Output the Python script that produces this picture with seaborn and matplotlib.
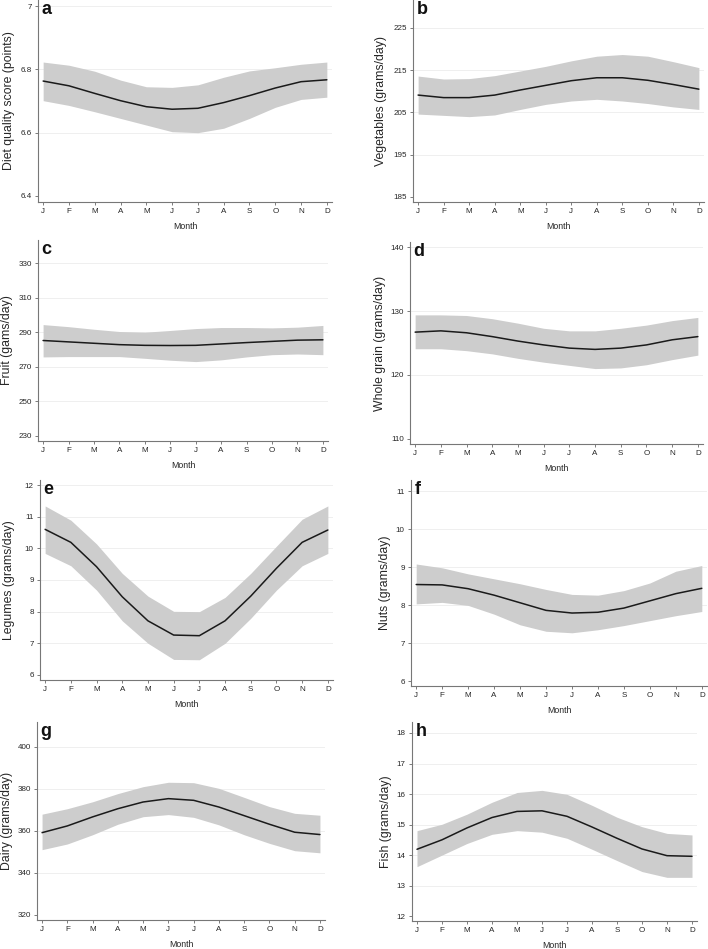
import matplotlib
matplotlib.use("Agg")
import matplotlib.pyplot as plt
import seaborn as sns
import pandas as pd

# -----------------------------
# Data
# -----------------------------
months = ["J", "F", "M", "A", "M", "J", "J", "A", "S", "O", "N", "D"]

diet_mean = [6.763, 6.748, 6.724, 6.701, 6.682, 6.674, 6.677, 6.695, 6.717, 6.741, 6.761, 6.767]
diet_hi = [6.823, 6.813, 6.794, 6.766, 6.745, 6.743, 6.751, 6.775, 6.795, 6.805, 6.816, 6.823]
diet_lo = [6.701, 6.686, 6.666, 6.645, 6.624, 6.603, 6.600, 6.614, 6.645, 6.680, 6.705, 6.712]

veg_mean = [209.1, 208.5, 208.5, 209.1, 210.3, 211.4, 212.5, 213.2, 213.2, 212.6, 211.6, 210.5]
veg_hi = [213.6, 212.9, 213.0, 213.7, 214.8, 215.9, 217.2, 218.3, 218.7, 218.3, 217.0, 215.6]
veg_lo = [204.6, 204.3, 204.0, 204.4, 205.7, 206.9, 207.7, 208.1, 207.7, 207.1, 206.3, 205.7]

fruit_mean = [285.2, 284.4, 283.6, 282.8, 282.4, 282.3, 282.4, 283.2, 284.0, 284.7, 285.4, 285.6]
fruit_hi = [294.4, 293.2, 291.7, 290.4, 290.0, 291.0, 292.1, 292.7, 292.7, 292.5, 292.9, 293.9]
fruit_lo = [275.7, 275.9, 275.9, 275.9, 274.9, 273.8, 273.0, 274.0, 275.7, 277.0, 277.4, 277.0]

grain_mean = [126.7, 126.9, 126.6, 126.0, 125.3, 124.7, 124.2, 124.0, 124.2, 124.7, 125.5, 126.0]
grain_hi = [129.4, 129.4, 129.3, 128.8, 128.1, 127.3, 126.9, 126.9, 127.3, 127.8, 128.5, 129.0]
grain_lo = [124.1, 124.1, 123.8, 123.3, 122.6, 122.0, 121.5, 121.0, 121.1, 121.6, 122.4, 123.1]

legume_mean = [10.60, 10.19, 9.42, 8.47, 7.71, 7.26, 7.24, 7.71, 8.49, 9.37, 10.19, 10.58]
legume_hi = [11.34, 10.89, 10.14, 9.21, 8.49, 8.01, 8.00, 8.45, 9.21, 10.07, 10.92, 11.34]
legume_lo = [9.84, 9.45, 8.68, 7.71, 7.00, 6.49, 6.48, 7.00, 7.79, 8.68, 9.45, 9.84]

nuts_mean = [8.54, 8.53, 8.43, 8.26, 8.06, 7.86, 7.79, 7.81, 7.92, 8.11, 8.30, 8.44]
nuts_hi = [9.08, 8.98, 8.82, 8.69, 8.56, 8.41, 8.28, 8.26, 8.38, 8.58, 8.89, 9.04]
nuts_lo = [8.03, 8.07, 7.99, 7.76, 7.48, 7.31, 7.27, 7.35, 7.46, 7.59, 7.72, 7.83]

dairy_mean = [359.2, 362.4, 366.7, 370.6, 373.8, 375.4, 374.6, 371.4, 367.3, 363.2, 359.4, 358.3]
dairy_hi = [368.0, 370.6, 373.9, 377.8, 381.1, 383.2, 383.0, 380.3, 376.0, 371.6, 368.4, 367.5]
dairy_lo = [351.1, 353.8, 358.2, 363.2, 366.8, 367.8, 366.5, 362.9, 358.2, 354.1, 350.6, 349.6]

fish_mean = [14.19, 14.50, 14.89, 15.23, 15.43, 15.45, 15.27, 14.92, 14.55, 14.20, 13.98, 13.96]
fish_hi = [14.80, 15.01, 15.34, 15.73, 16.05, 16.12, 15.99, 15.63, 15.24, 14.93, 14.71, 14.66]
fish_lo = [13.62, 14.00, 14.38, 14.68, 14.80, 14.75, 14.55, 14.19, 13.82, 13.46, 13.27, 13.27]

panel_letters = ["a", "b", "c", "d", "e", "f", "g", "h"]
ylabels = ["Diet quality score (points)", "Vegetables (grams/day)", "Fruit (gams/day)",
           "Whole grain (grams/day)", "Legumes (grams/day)", "Nuts (grams/day)",
           "Dairy (grams/day)", "Fish (grams/day)"]
yticks = [[6.4, 6.6, 6.8, 7], [185, 195, 205, 215, 225], [230, 250, 270, 290, 310, 330],
          [110, 120, 130, 140], [6, 7, 8, 9, 10, 11, 12], [6, 7, 8, 9, 10, 11],
          [320, 340, 360, 380, 400], [12, 13, 14, 15, 16, 17, 18]]
ytick_labels = [["6.4", "6.6", "6.8", "7"]] + [[str(t) for t in tk] for tk in yticks[1:]]
ylims = [(6.381, 7.019), (183.8, 231.6), (227.1, 343.3), (109.2, 140.8),
         (5.84, 12.16), (5.87, 11.29), (317.6, 411.9), (11.84, 18.36)]

means = [diet_mean, veg_mean, fruit_mean, grain_mean, legume_mean, nuts_mean, dairy_mean, fish_mean]
highs = [diet_hi, veg_hi, fruit_hi, grain_hi, legume_hi, nuts_hi, dairy_hi, fish_hi]
lows = [diet_lo, veg_lo, fruit_lo, grain_lo, legume_lo, nuts_lo, dairy_lo, fish_lo]

# -----------------------------
# Layout (pixel boxes: left, top, right, bottom) + y label right edge
# -----------------------------
W, H = 708, 949
boxes = [(38, 0, 332, 202), (413, 0, 704, 202),
         (38, 240, 328, 441), (410, 242, 703, 444),
         (40, 480, 333, 680), (411, 480, 707, 686),
         (37, 722, 325, 920), (412, 722, 697, 921)]
ylabel_right = [15, 387, 13, 386, 15, 391, 13, 392]

sns.set_theme(style="white")
plt.rcParams["font.family"] = ["Liberation Sans", "DejaVu Sans"]

fig = plt.figure(figsize=(W / 100, H / 100), dpi=100)

x = list(range(12))
for i in range(8):
    l, t, r, b = boxes[i]
    ax = fig.add_axes([l / W, 1 - b / H, (r - l) / W, (b - t) / H])
    df = pd.DataFrame({"month": x, "mean": means[i], "lo": lows[i], "hi": highs[i]})

    # faint grid lines
    for yt in yticks[i][1:]:
        ax.axhline(yt, color="#efefef", lw=0.7, zorder=0)

    ax.fill_between(df["month"], df["lo"], df["hi"], color="#cdcdcd", lw=0, zorder=1)
    sns.lineplot(data=df, x="month", y="mean", color="#1a1a1a", lw=1.1, ax=ax, zorder=2)

    ax.set_xlim(-0.2, 11.2)
    ax.set_ylim(*ylims[i])
    ax.set_xticks(x)
    ax.set_xticklabels(months, fontsize=5.8)
    ax.set_yticks(yticks[i])
    ax.set_yticklabels(ytick_labels[i], fontsize=5.8)
    ax.tick_params(axis="both", direction="out", length=2.5, width=0.6,
                   color="#666666", pad=2, left=True, bottom=True)

    ax.set_xlabel("Month", fontsize=6.3, labelpad=5)
    ax.set_ylabel(ylabels[i], fontsize=8.8)
    ax.yaxis.set_label_coords((ylabel_right[i] - l) / (r - l), 0.5)

    for side in ["top", "right"]:
        ax.spines[side].set_visible(False)
    for side in ["left", "bottom"]:
        ax.spines[side].set_color("#777777")
        ax.spines[side].set_linewidth(0.8)

    ax.text(0.012, 0.995, panel_letters[i], transform=ax.transAxes, fontsize=13,
            fontweight="bold", ha="left", va="top", color="#111111")

fig.savefig("out.png", dpi=100)
